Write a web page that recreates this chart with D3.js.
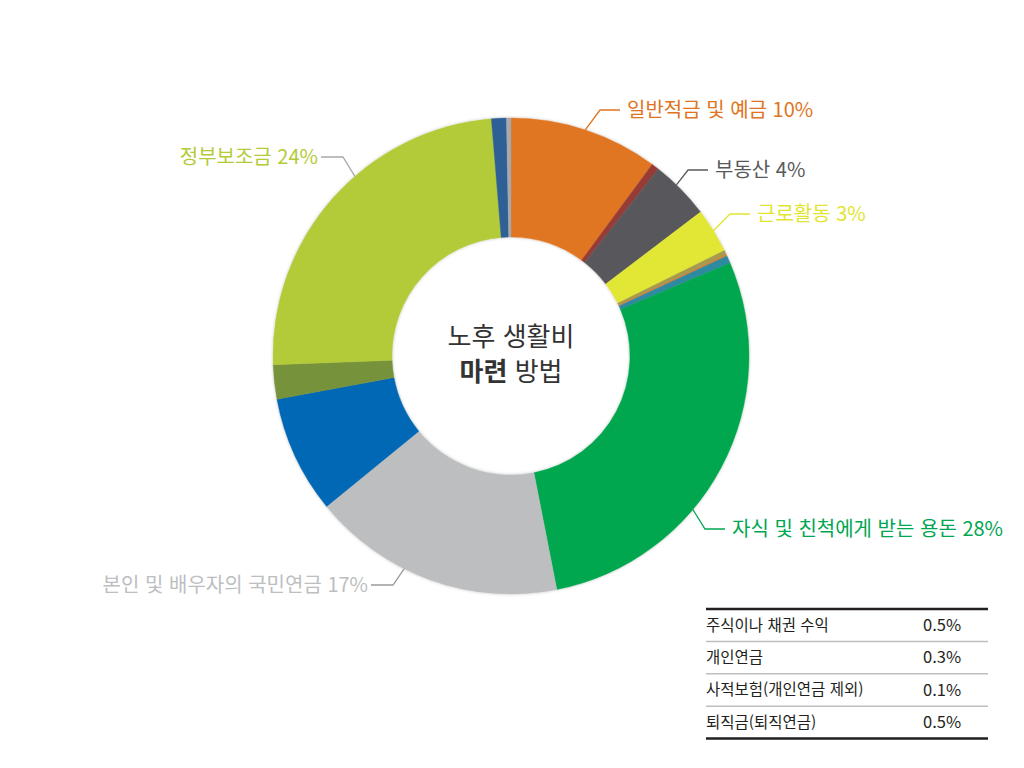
<!DOCTYPE html>
<html lang="ko">
<head>
<meta charset="utf-8">
<script src="https://cdn.jsdelivr.net/npm/d3@7/dist/d3.min.js"></script>
<style>
  html, body { margin: 0; padding: 0; background: #ffffff; }
  svg { display: block; font-family: "Noto Sans CJK KR", "Noto Sans", sans-serif; }
</style>
</head>
<body>
<svg id="chart" width="1024" height="768"></svg>
<script>
// ---------- DATA ----------
const categories = [
  "일반적금 및 예금", "주식이나 채권 수익", "부동산", "근로활동",
  "개인연금", "사적보험(개인연금 제외)", "퇴직금(퇴직연금)",
  "자식 및 친척에게 받는 용돈", "본인 및 배우자의 국민연금",
  "미표기 A", "미표기 B", "정부보조금", "미표기 C", "미표기 D"
];
const values = [10, 0.5, 4, 3, 0.3, 0.1, 0.5, 28, 17, 7.9, 2.3, 24, 1, 0.3];
const colors = [
  "#E07421", "#963B36", "#58595B", "#E2E736",
  "#A69A4F", "#E0782A", "#2F8AA0",
  "#00A74F", "#BCBEC0",
  "#0068B4", "#76923B", "#B3CB37", "#2F5F95", "#A7A9AC"
];
const labeledCategories = ["일반적금 및 예금", "부동산", "근로활동", "자식 및 친척에게 받는 용돈", "본인 및 배우자의 국민연금", "정부보조금"];
const centerTitle = ["노후 생활비", "마련 방법"];
const tableLabels = ["주식이나 채권 수익", "개인연금", "사적보험(개인연금 제외)", "퇴직금(퇴직연금)"];
const tableValues = ["0.5%", "0.3%", "0.1%", "0.5%"];

// ---------- LAYOUT ----------
const cx = 511, cy = 356, outerR = 238, innerR = 119;
const labelLayout = {
  "일반적금 및 예금":            { side: "right", x: 627, y: 110, frac: 0.5,  text: "#E07421", line: "#E07421" },
  "부동산":                      { side: "right", x: 715, y: 170, frac: 0.4,  text: "#58595B", line: "#58595B" },
  "근로활동":                    { side: "right", x: 757, y: 214, frac: 0.5,  text: "#E2E52F", line: "#E2E52F" },
  "자식 및 친척에게 받는 용돈":  { side: "right", x: 732, y: 529, frac: 0.62, text: "#00A651", line: "#00A651" },
  "본인 및 배우자의 국민연금":   { side: "left",  x: 368, y: 585, frac: 0.61, text: "#BCBEC0", line: "#9A9A9A" },
  "정부보조금":                  { side: "left",  x: 318, y: 157, frac: 0.585, text: "#B3CB37", line: "#A7A9AC" }
};

const svg = d3.select("#chart");

// soft shadow
const defs = svg.append("defs");
const f = defs.append("filter").attr("id", "shadow").attr("x", "-10%").attr("y", "-10%").attr("width", "120%").attr("height", "120%");
f.append("feDropShadow").attr("dx", 0).attr("dy", 0).attr("stdDeviation", 1.6)
  .attr("flood-color", "#000").attr("flood-opacity", 0.25);

const data = categories.map((c, i) => ({ name: c, value: values[i], color: colors[i] }));

const pie = d3.pie().sort(null).value(d => d.value).startAngle(0).endAngle(2 * Math.PI);
const arcs = pie(data);
const arc = d3.arc().innerRadius(innerR).outerRadius(outerR);

const g = svg.append("g").attr("transform", `translate(${cx},${cy})`);
g.append("g").attr("filter", "url(#shadow)")
  .selectAll("path").data(arcs).join("path")
  .attr("d", arc)
  .attr("fill", d => d.data.color)
  .attr("stroke", d => d.data.color)
  .attr("stroke-width", 0.4);

// center title
const title = g.append("text").attr("text-anchor", "middle").attr("fill", "#333333").attr("font-size", 26);
title.append("tspan").attr("x", 0).attr("y", -19).attr("dy", "0.35em").text(centerTitle[0]);
const line2 = title.append("tspan").attr("x", 0).attr("y", 16).attr("dy", "0.35em");
const words2 = centerTitle[1].split(" ");
line2.append("tspan").attr("font-weight", "bold").text(words2[0]);
line2.append("tspan").text(" " + words2.slice(1).join(" "));

// labels with leader lines
const labelArcs = arcs.filter(a => labeledCategories.includes(a.data.name));
const lg = svg.append("g");
labelArcs.forEach(a => {
  const L = labelLayout[a.data.name];
  const ang = a.startAngle + L.frac * (a.endAngle - a.startAngle);
  const sx = cx + outerR * Math.sin(ang), sy = cy - outerR * Math.cos(ang);
  let pts;
  if (L.side === "right") pts = [[sx, sy], [L.x - 27, L.y], [L.x - 7, L.y]];
  else pts = [[sx, sy], [L.x + 25, L.y], [L.x + 3, L.y]];
  lg.append("path").attr("d", d3.line()(pts))
    .attr("fill", "none").attr("stroke", L.line).attr("stroke-width", 1.3);
  lg.append("text")
    .attr("x", L.x).attr("y", L.y).attr("dy", "0.35em")
    .attr("text-anchor", L.side === "right" ? "start" : "end")
    .attr("font-size", 20).attr("fill", L.text)
    .text(`${a.data.name} ${a.data.value}%`);
});

// table
const tx0 = 706, tx1 = 988, valX = 923;
const rowScale = d3.scaleBand().domain(tableLabels).range([609, 738.5]);
const tg = svg.append("g");
tableLabels.forEach((lab, i) => {
  const yc = rowScale(lab) + rowScale.bandwidth() / 2;
  tg.append("text").attr("x", tx0).attr("y", yc).attr("dy", "0.35em")
    .attr("font-size", 15.5).attr("fill", "#231F20").text(lab);
  tg.append("text").attr("x", valX).attr("y", yc).attr("dy", "0.35em")
    .attr("font-size", 16.5).attr("fill", "#231F20").text(tableValues[i]);
  if (i > 0) {
    tg.append("line").attr("x1", tx0).attr("x2", tx1)
      .attr("y1", rowScale(lab)).attr("y2", rowScale(lab))
      .attr("stroke", "#BCBEC0").attr("stroke-width", 1.5);
  }
});
[rowScale.range()[0], rowScale.range()[1]].forEach(y => {
  tg.append("line").attr("x1", tx0).attr("x2", tx1).attr("y1", y).attr("y2", y)
    .attr("stroke", "#231F20").attr("stroke-width", 2.5);
});
</script>
</body>
</html>
